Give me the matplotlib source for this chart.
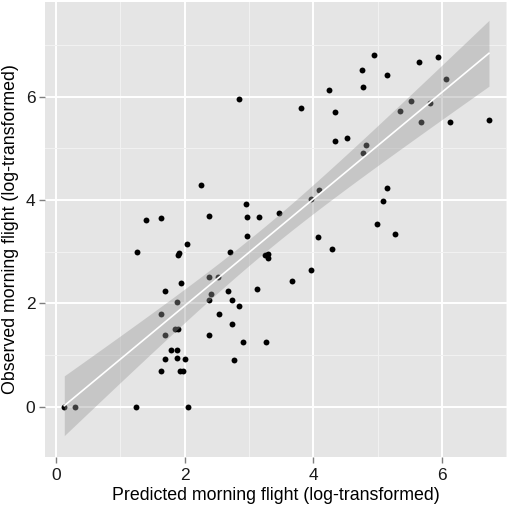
import matplotlib
matplotlib.use("Agg")
import matplotlib.pyplot as plt
import numpy as np

plt.rcParams['font.family'] = ['Liberation Sans', 'DejaVu Sans']

# Predicted (x) and observed (y) morning flight, log-transformed
predicted = [
    2.85, 3.81, 4.25, 4.34, 4.34, 4.52, 4.95, 4.76, 4.77, 5.14,
    5.65, 5.94, 6.06, 5.52, 5.35, 5.82, 5.67, 6.13, 6.73, 4.82,
    4.77, 5.14, 5.08, 4.99, 5.27, 4.09, 3.96, 4.07, 4.29, 3.97,
    3.67, 3.47, 3.15, 2.97, 2.95, 2.38, 2.26, 2.97, 2.71, 3.25,
    3.30, 3.30, 2.38, 2.52, 3.13, 2.68, 2.41, 2.38, 2.73, 2.84,
    2.54, 2.74, 2.38, 2.90, 3.26, 2.76, 1.40, 1.63, 1.26, 2.03,
    1.89, 1.91, 1.94, 1.70, 1.88, 1.63, 1.85, 1.89, 1.69, 1.79,
    1.88, 1.70, 1.88, 2.01, 1.63, 1.93, 1.97, 0.13, 0.30, 1.24,
    2.05,
]
observed = [
    5.95, 5.78, 6.12, 5.70, 5.15, 5.19, 6.81, 6.52, 6.19, 6.41,
    6.67, 6.77, 6.35, 5.92, 5.72, 5.88, 5.51, 5.51, 5.54, 5.06,
    4.91, 4.24, 3.99, 3.53, 3.34, 4.19, 4.01, 3.29, 3.06, 2.64,
    2.44, 3.74, 3.67, 3.67, 3.93, 3.69, 4.30, 3.31, 2.99, 2.94,
    2.96, 2.88, 2.52, 2.52, 2.28, 2.25, 2.19, 2.07, 2.07, 1.95,
    1.79, 1.61, 1.39, 1.25, 1.25, 0.91, 3.62, 3.66, 2.99, 3.15,
    2.94, 2.98, 2.39, 2.25, 2.03, 1.79, 1.50, 1.50, 1.38, 1.10,
    1.10, 0.92, 0.95, 0.92, 0.69, 0.69, 0.69, 0.0, 0.0, 0.0,
    0.0,
]

x = np.array(predicted)
y = np.array(observed)

# linear fit with 95% confidence band (like geom_smooth(method="lm"))
n = len(x)
slope, intercept = np.polyfit(x, y, 1)
resid = y - (slope * x + intercept)
s = np.sqrt(np.sum(resid ** 2) / (n - 2))
xs = np.linspace(x.min(), x.max(), 100)
ys = slope * xs + intercept
se = s * np.sqrt(1.0 / n + (xs - x.mean()) ** 2 / np.sum((x - x.mean()) ** 2))
t = 1.99
lo, hi = ys - t * se, ys + t * se

fig = plt.figure(figsize=(5.1, 5.08), dpi=100)
ax = fig.add_axes([0.0882, 0.1004, 0.9059, 0.8957])
ax.set_facecolor('#E5E5E5')

ax.set_xlim(-0.17, 7.01)
ax.set_ylim(-0.97, 7.83)
ax.set_xticks([0, 2, 4, 6])
ax.set_yticks([0, 2, 4, 6])
ax.set_xticks([1, 3, 5, 7], minor=True)
ax.set_yticks([1, 3, 5, 7], minor=True)
ax.grid(which='major', color='white', linewidth=1.4)
ax.grid(which='minor', color='#F2F2F2', linewidth=0.7)
ax.set_axisbelow(True)

ax.scatter(x, y, s=18, color='black', zorder=3, linewidths=0)
ax.fill_between(xs, lo, hi, color='#999999', alpha=0.4, linewidth=0, zorder=4)
ax.plot(xs, ys, color='white', linewidth=1.2, zorder=5)

for sp in ax.spines.values():
    sp.set_visible(False)
ax.tick_params(which='major', length=4, width=1, color='#7F7F7F',
               labelsize=12.5, labelcolor='#1A1A1A', pad=4)
ax.tick_params(axis='y', pad=3)
ax.tick_params(which='minor', length=0)

ax.set_xlabel('Predicted morning flight (log-transformed)', fontsize=12.8, labelpad=3)
ax.set_ylabel('Observed morning flight (log-transformed)', fontsize=12.8, labelpad=5)

fig.savefig('out.png', dpi=100)
